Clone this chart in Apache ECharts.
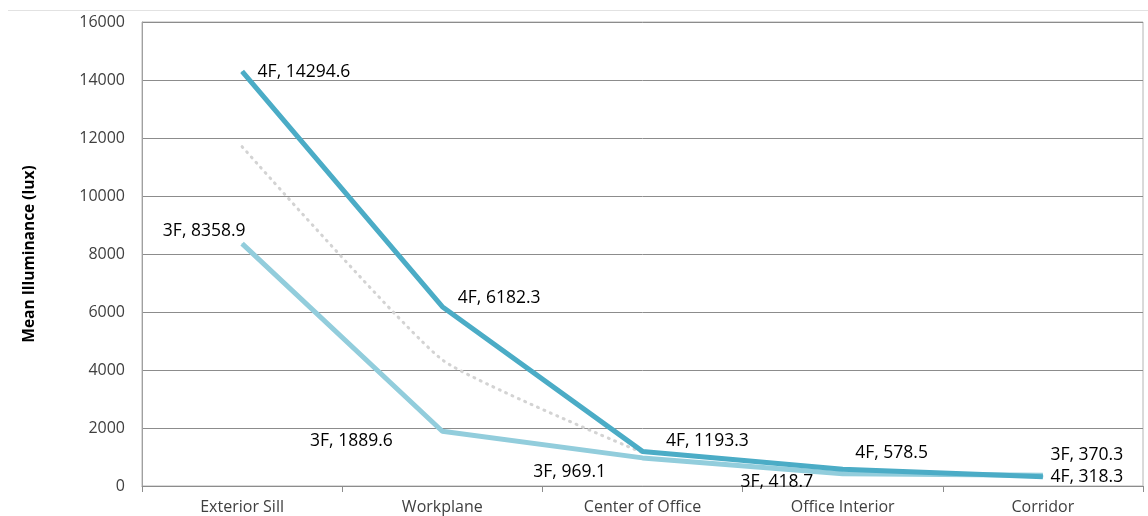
<!DOCTYPE html>
<html>
<head>
<meta charset="utf-8">
<script src="https://cdn.jsdelivr.net/npm/echarts@6/dist/echarts.min.js"></script>
<style>
html,body{margin:0;padding:0;background:#fff;}
#chart{width:1148px;height:516px;}
</style>
</head>
<body>
<div id="chart"></div>
<script>
var categories = ['Exterior Sill', 'Workplane', 'Center of Office', 'Office Interior', 'Corridor'];
var values4F = [14294.6, 6182.3, 1193.3, 578.5, 318.3];
var values3F = [8358.9, 1889.6, 969.1, 418.7, 370.3];
var valuesTrend = [11700, 4350, 1150, null, null];
var yTicks = [0, 2000, 4000, 6000, 8000, 10000, 12000, 14000, 16000];

// label placement (style only)
var labelPos4F = [
  {position: 'right', distance: 15, offset: [0, 1]},
  {position: 'right', distance: 15, offset: [0, -9]},
  {position: 'right', distance: 23, offset: [0, -10]},
  {position: 'right', distance: 12, offset: [0, -16]},
  {position: 'right', distance: 7, offset: [0, 0]}
];
var labelPos3F = [
  {position: 'left', distance: 0, offset: [4, -13]},
  {position: 'left', distance: 49, offset: [0, 10]},
  {position: 'left', distance: 36, offset: [0, 14]},
  {position: 'left', distance: 29, offset: [0, 8]},
  {position: 'right', distance: 7, offset: [0, -20]}
];

var FONT = 'Open Sans';

function buildData(vals, pos) {
  return vals.map(function (v, i) {
    return {value: v, label: pos[i]};
  });
}

var chart = echarts.init(document.getElementById('chart'));
chart.setOption({
  animation: false,
  backgroundColor: '#ffffff',
  textStyle: {fontFamily: FONT},
  graphic: [{
    type: 'line',
    shape: {x1: 8, y1: 10.5, x2: 1148, y2: 10.5},
    style: {stroke: '#e2e2e2', lineWidth: 1}
  }],
  grid: {
    left: 142, right: 5, top: 22, bottom: 30,
    show: true, borderColor: '#b4b4b4', borderWidth: 1
  },
  xAxis: {
    type: 'category',
    data: categories,
    boundaryGap: true,
    axisLine: {lineStyle: {color: '#8c8c8c', width: 1}},
    axisTick: {show: true, length: 6, lineStyle: {color: '#8c8c8c'}},
    axisLabel: {color: '#404040', fontSize: 16, fontFamily: FONT, margin: 13}
  },
  yAxis: {
    type: 'value',
    min: yTicks[0],
    max: yTicks[yTicks.length - 1],
    interval: 2000,
    name: 'Mean Illuminance (lux)',
    nameLocation: 'middle',
    nameGap: 104,
    nameRotate: 90,
    nameTextStyle: {color: '#000', fontWeight: 'bold', fontSize: 15.5, fontFamily: FONT},
    axisLine: {show: true, lineStyle: {color: '#a0a0a0'}},
    axisTick: {show: false},
    axisLabel: {
      color: '#404040', fontSize: 16, fontFamily: FONT, margin: 17,
      formatter: function (v) { return String(v); }
    },
    splitLine: {lineStyle: {color: '#8c8c8c', width: 1}}
  },
  series: [
    {
      name: 'trend',
      type: 'line',
      data: valuesTrend,
      symbol: 'none',
      smooth: 0.15,
      connectNulls: false,
      lineStyle: {color: '#d3d3d3', width: 3, type: [1, 6], cap: 'round'},
      z: 1
    },
    {
      name: '3F',
      type: 'line',
      data: buildData(values3F, labelPos3F),
      symbol: 'circle',
      symbolSize: 1,
      itemStyle: {color: '#92cddc'},
      lineStyle: {color: '#92cddc', width: 5},
      label: {
        show: true,
        formatter: function (p) { return p.seriesName + ', ' + p.value; },
        color: '#000', fontSize: 17.5, fontFamily: FONT
      },
      z: 2
    },
    {
      name: '4F',
      type: 'line',
      data: buildData(values4F, labelPos4F),
      symbol: 'circle',
      symbolSize: 1,
      itemStyle: {color: '#4bacc6'},
      lineStyle: {color: '#4bacc6', width: 5},
      label: {
        show: true,
        formatter: function (p) { return p.seriesName + ', ' + p.value; },
        color: '#000', fontSize: 17.5, fontFamily: FONT
      },
      z: 3
    }
  ]
});
</script>
</body>
</html>
